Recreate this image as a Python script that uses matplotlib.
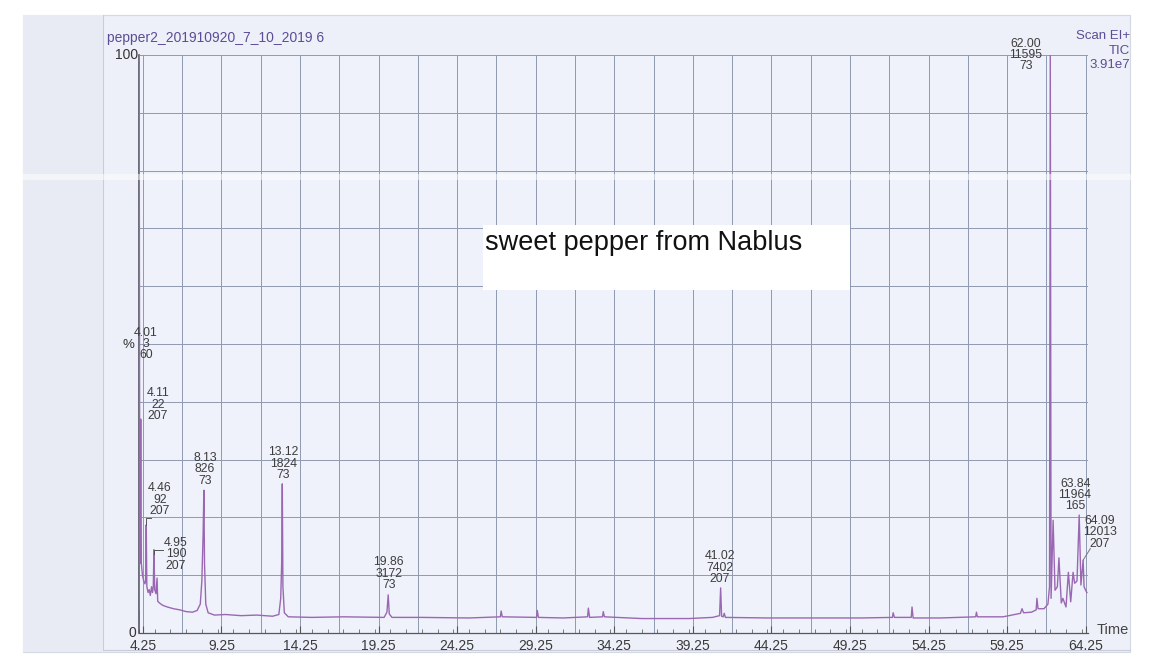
import matplotlib
matplotlib.use("Agg")
import matplotlib.pyplot as plt
from matplotlib.patches import Rectangle
from matplotlib.ticker import MultipleLocator

plt.rcParams['font.family'] = ['Liberation Sans', 'DejaVu Sans']

# Baseline of the TIC trace (time in min, relative intensity in %)
base_time = [4.00, 4.05, 4.08, 4.15, 4.22, 4.30, 4.38, 4.42, 4.50, 4.58, 4.65, 4.72,
             4.80, 4.86, 4.91, 5.00, 5.08, 5.19, 5.30, 5.50, 5.80, 6.20, 6.60, 7.00,
             7.40, 7.70, 7.90, 8.00, 8.08, 8.17, 8.25, 8.40, 8.80, 9.50, 10.50, 11.50,
             12.50, 12.90, 13.02, 13.08, 13.16, 13.25, 13.50, 15.0, 17.0, 19.60, 19.78,
             19.93, 20.10, 22.0, 25.0, 27.0, 27.12, 29.30, 29.42, 31.0, 32.55, 32.68,
             33.50, 33.62, 36.0, 39.0, 40.50, 40.95, 41.08, 41.18, 41.32, 44.0, 47.0,
             50.0, 51.95, 52.08, 53.15, 53.27, 55.0, 57.25, 57.36, 59.0, 60.10, 60.30,
             60.80, 61.10, 61.22, 61.60, 61.85, 61.95, 62.05, 62.30, 62.45, 62.70,
             62.80, 63.00, 63.30, 63.55, 63.70, 63.95, 64.15, 64.25, 64.33]
base_pct = [4.0, 12.0, 18.0, 12.0, 10.0, 9.0, 8.5, 9.0, 8.0, 7.0, 7.5, 6.5,
            8.0, 7.0, 8.0, 7.5, 6.8, 5.5, 5.2, 4.8, 4.5, 4.2, 4.0, 3.7,
            3.6, 3.9, 5.0, 9.0, 17.0, 12.0, 5.0, 3.5, 3.1, 3.2, 3.0, 3.1,
            2.9, 3.2, 6.0, 12.0, 8.0, 3.5, 2.8, 2.7, 2.8, 2.7, 3.6,
            3.3, 2.7, 2.7, 2.6, 2.8, 2.8, 2.7, 2.7, 2.6, 2.8, 2.7,
            2.8, 2.8, 2.5, 2.5, 2.7, 3.0, 2.9, 2.8, 2.7, 2.6, 2.6,
            2.6, 2.7, 2.7, 2.7, 2.6, 2.6, 2.8, 2.8, 2.8, 3.4, 3.5,
            3.6, 4.0, 4.2, 4.2, 5.0, 8.0, 6.0, 7.4, 8.0, 5.2,
            6.0, 4.5, 5.4, 8.6, 9.0, 8.3, 8.0, 7.4, 7.0]

# Unlabelled peaks
minor_rt = [5.15, 27.05, 29.35, 32.60, 33.55, 41.25, 52.00, 53.20, 57.30, 60.20,
            61.15, 62.18, 62.55, 63.15, 63.45]
minor_pct = [9.5, 3.8, 3.9, 4.3, 3.7, 3.4, 3.5, 4.5, 3.6, 4.2,
             6.0, 19.5, 13.0, 10.5, 10.5]

# Labelled peaks: retention time, scan number, base peak mass, apex height (%)
peak_rt = [4.01, 4.11, 4.46, 4.95, 8.13, 13.12, 19.86, 41.02, 62.00, 63.84, 64.09]
peak_scan = [3, 22, 92, 190, 826, 1824, 3172, 7402, 11595, 11964, 12013]
peak_mass = [60, 207, 207, 207, 73, 73, 73, 207, 73, 165, 207]
peak_pct = [100, 37.0, 18.7, 14.4, 24.7, 25.8, 6.6, 7.8, 100, 20.4, 12.6]

x_ticks = [4.25, 9.25, 14.25, 19.25, 24.25, 29.25, 34.25, 39.25, 44.25, 49.25,
           54.25, 59.25, 64.25]

# where each peak annotation sits (x centre, bottom of text)
label_x = [4.45, 5.21, 5.34, 6.36, 8.20, 13.20, 19.90, 40.98, 60.46, 63.58, 65.17]
label_y = [47.0, 36.5, 20.1, 10.6, 25.3, 26.3, 7.3, 8.3, 97.0, 20.9, 14.4]

W, H = 1152, 664
fig = plt.figure(figsize=(W / 100, H / 100), dpi=100)
fig.patch.set_facecolor('white')

def fx(px):
    return px / W

def fy(py):
    return 1 - py / H

# paper background
fig.patches.append(Rectangle((fx(23), fy(652)), fx(1130 - 23), (652 - 15) / H,
                             transform=fig.transFigure, facecolor='#edf0f8',
                             edgecolor='#d4d8e2', lw=0.8, zorder=-2))
fig.patches.append(Rectangle((fx(23), fy(652)), fx(103 - 23), (652 - 15) / H,
                             transform=fig.transFigure, facecolor='#e8ebf4',
                             edgecolor='none', zorder=-1))
fig.lines.append(plt.Line2D([fx(103), fx(103)], [fy(650), fy(15)],
                            transform=fig.transFigure, color='#c8ccd8', lw=0.8, zorder=-1))
fig.lines.append(plt.Line2D([fx(103), fx(1130)], [fy(650), fy(650)],
                            transform=fig.transFigure, color='#c8ccd8', lw=0.8, zorder=-1))

ax = fig.add_axes([fx(139), fy(633), fx(1088 - 139), (633 - 55) / H])
ax.set_facecolor('#eff1fb')

# merge baseline and peak apexes into one trace
pts = sorted(zip(base_time + minor_rt + peak_rt, base_pct + minor_pct + peak_pct))
t = [p[0] for p in pts]
y = [p[1] for p in pts]
ax.plot(t, y, color='#9a68b2', lw=1.0, zorder=3)

ax.set_xlim(4.0, 64.4)
ax.set_ylim(0, 100)

# grid every 2.5 min and 10 %
ax.xaxis.set_minor_locator(MultipleLocator(1.0))
ax.set_xticks(x_ticks)
ax.set_xticklabels([f'{v:.2f}' for v in x_ticks], fontsize=10, color='#3a3a3a')
ax.tick_params(axis='x', which='major', direction='in', length=5, width=0.8,
               color='#555555', pad=4)
ax.tick_params(axis='x', which='minor', direction='in', length=3, width=0.6,
               color='#666666')
for gx in [4.25 + 2.5 * k for k in range(25)]:
    ax.axvline(gx, color='#8f99b0', lw=0.7, zorder=1)
for gy in range(10, 101, 10):
    ax.axhline(gy, color='#8f99b0', lw=0.7, zorder=1)
ax.set_yticks([])
for s in ['top', 'right']:
    ax.spines[s].set_visible(False)
ax.spines['left'].set_color('#555566')
ax.spines['bottom'].set_color('#555566')
ax.spines['left'].set_linewidth(1.2)
ax.spines['bottom'].set_linewidth(0.9)

# peak annotations
for rt, sc, ms, lx, ly in zip(peak_rt, peak_scan, peak_mass, label_x, label_y):
    ax.text(lx, ly, f'{rt:.2f}\n{sc}\n{ms}', ha='center', va='bottom',
            fontsize=8.8, color='#3d3d3d', linespacing=0.92, clip_on=False, zorder=4)
ax.plot([4.46, 4.46, 4.75], [18.7, 19.9, 19.9], color='#555555', lw=0.7, zorder=4)
ax.plot([4.95, 4.95, 5.55], [13.6, 14.4, 14.4], color='#555555', lw=0.7, zorder=4)
ax.plot([64.09, 64.55], [12.6, 14.6], color='#777777', lw=0.7, zorder=4, clip_on=False)

# axis texts
fig.text(fx(138), fy(55), '100', ha='right', va='center', fontsize=10, color='#333333')
fig.text(fx(136), fy(633), '0', ha='right', va='center', fontsize=10, color='#333333')
fig.text(fx(128), fy(345), '%', ha='center', va='center', fontsize=9.5, color='#333333')
fig.text(fx(1097), fy(630), 'Time', ha='left', va='center', fontsize=10.5, color='#444444')

# header
hdr = '#5b4d96'
fig.text(fx(107), fy(38), 'pepper2_201910920_7_10_2019 6', ha='left', va='center',
         fontsize=10, color=hdr)
fig.text(fx(1130), fy(36), 'Scan EI+', ha='right', va='center', fontsize=9.5, color=hdr)
fig.text(fx(1130), fy(51), 'TIC', ha='right', va='center', fontsize=9.5, color=hdr)
fig.text(fx(1130), fy(65), '3.91e7', ha='right', va='center', fontsize=9.5, color=hdr)

# sample name box
fig.patches.append(Rectangle((fx(483), fy(290)), fx(850 - 483), (290 - 225) / H,
                             transform=fig.transFigure, facecolor='white',
                             edgecolor='none', zorder=5))
fig.text(fx(485), fy(243), 'sweet pepper from Nablus', ha='left', va='center',
         fontsize=19.5, color='#111111', zorder=6)

# light streak across the page
fig.patches.append(Rectangle((0, fy(180)), 1, 6 / H, transform=fig.transFigure,
                             facecolor='white', alpha=0.5, edgecolor='none', zorder=5))

fig.savefig('out.png', dpi=100)
